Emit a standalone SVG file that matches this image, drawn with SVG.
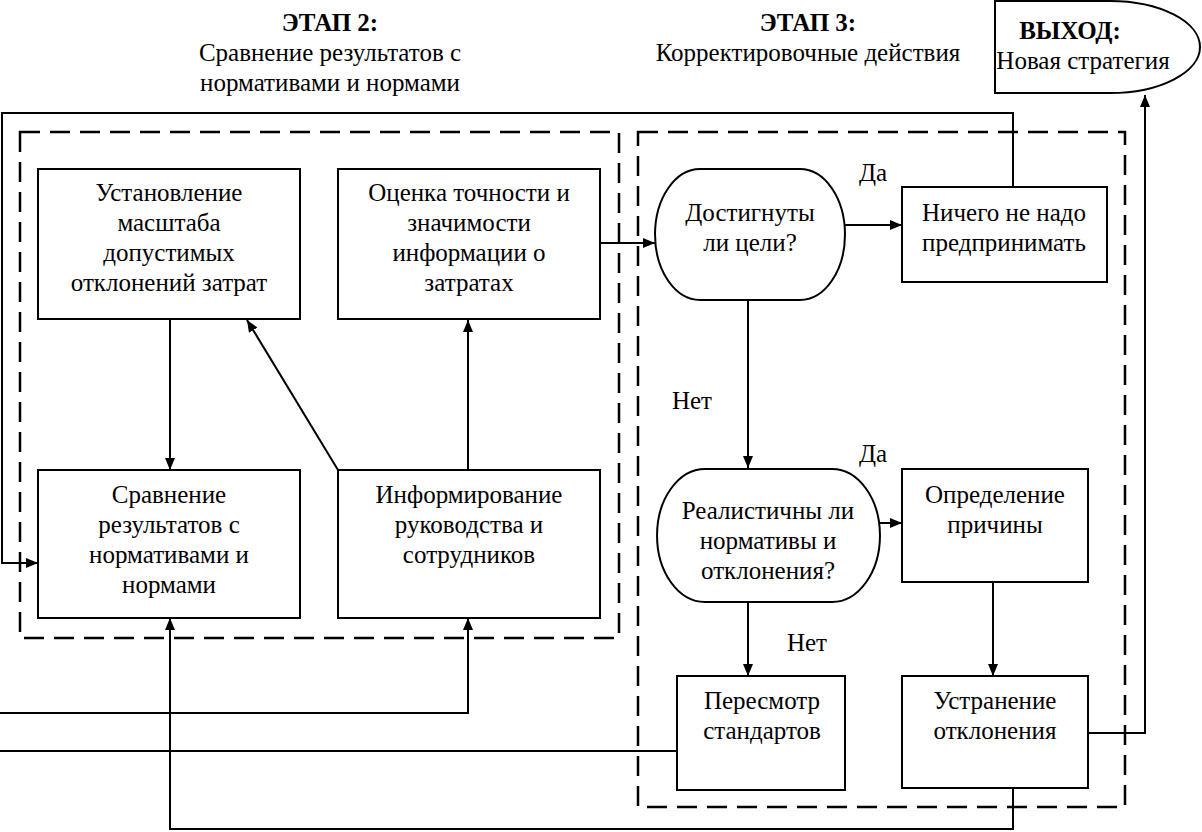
<svg xmlns="http://www.w3.org/2000/svg" width="1202" height="832" viewBox="0 0 1202 832">
<style>
text{fill:#000;text-anchor:middle;dominant-baseline:central}
.b{font-weight:bold}
.box{fill:#fff;stroke:#000;stroke-width:2}
.dash{fill:none;stroke:#000;stroke-width:2.5;stroke-dasharray:20 10}
.c{fill:none;stroke:#000;stroke-width:2}
.a{marker-end:url(#ah)}
</style>
<defs>
<marker id="ah" viewBox="0 0 12 10" refX="12" refY="5" markerWidth="12" markerHeight="10" markerUnits="userSpaceOnUse" orient="auto">
<path d="M0,0 L12,5 L0,10 Z" fill="#000"/>
</marker>
</defs>
<rect width="1202" height="832" fill="#fff"/>
<g font-family="Liberation Serif" font-size="25">
<g id="headers">
<text class="b" x="330" y="22">ЭТАП 2:</text>
<text x="330" y="52">Сравнение результатов с</text>
<text x="330" y="82">нормативами и нормами</text>
<text class="b" x="808" y="22">ЭТАП 3:</text>
<text x="808" y="52">Корректировочные действия</text>
</g>
<g id="stage2"><rect class="dash" x="20" y="132" width="599" height="506"/></g>
<g id="stage3"><rect class="dash" x="638" y="132" width="487" height="675"/></g>
<g id="connectors">
<path class="c" d="M1013,187 V113 H2"/>
<path class="c a" d="M2,112 V563 H38" stroke-width="3"/>
<path class="c a" d="M170,320 V470"/>
<path class="c a" d="M338,470 L247,320"/>
<path class="c a" d="M468,470 V320"/>
<path class="c a" d="M600,243 H655"/>
<path class="c a" d="M845,225 H902"/>
<path class="c a" d="M748,300 V468"/>
<path class="c a" d="M880,523 H902"/>
<path class="c a" d="M748,602 V676"/>
<path class="c a" d="M993,582 V676"/>
<path class="c a" d="M0,713 H468 V618"/>
<path class="c" d="M0,751 H677"/>
<path class="c a" d="M1013,788 V829 H170 V618"/>
<path class="c a" d="M1088,733 H1145 V95"/>
<text x="873" y="172">Да</text>
<text x="692" y="400">Нет</text>
<text x="873" y="453">Да</text>
<text x="807" y="642">Нет</text>
</g>
<g id="n-ustanovlenie">
<rect class="box" x="38" y="169" width="262" height="150"/>
<text x="169" y="192">Установление</text>
<text x="169" y="222">масштаба</text>
<text x="169" y="252">допустимых</text>
<text x="169" y="282">отклонений затрат</text>
</g>
<g id="n-otsenka">
<rect class="box" x="338" y="169" width="262" height="150"/>
<text x="469" y="192">Оценка точности и</text>
<text x="469" y="222">значимости</text>
<text x="469" y="252">информации о</text>
<text x="469" y="282">затратах</text>
</g>
<g id="n-sravnenie">
<rect class="box" x="38" y="470" width="262" height="148"/>
<text x="169" y="494">Сравнение</text>
<text x="169" y="524">результатов с</text>
<text x="169" y="554">нормативами и</text>
<text x="169" y="584">нормами</text>
</g>
<g id="n-inform">
<rect class="box" x="338" y="470" width="262" height="148"/>
<text x="469" y="494">Информирование</text>
<text x="469" y="524">руководства и</text>
<text x="469" y="554">сотрудников</text>
</g>
<g id="n-dostignuty">
<path class="box" d="M700,169 H800 A45,65.5 0 0 1 800,300 H700 A45,65.5 0 0 1 700,169 Z"/>
<text x="750" y="212">Достигнуты</text>
<text x="750" y="242">ли цели?</text>
</g>
<g id="n-nichego">
<rect class="box" x="902" y="187" width="205" height="95"/>
<text x="1004" y="212">Ничего не надо</text>
<text x="1004" y="242">предпринимать</text>
</g>
<g id="n-realistichny">
<path class="box" d="M705,469 H832 A48,66.5 0 0 1 832,602 H705 A48,66.5 0 0 1 705,469 Z"/>
<text x="768" y="510">Реалистичны ли</text>
<text x="768" y="540">нормативы и</text>
<text x="768" y="570">отклонения?</text>
</g>
<g id="n-opredelenie">
<rect class="box" x="902" y="469" width="186" height="113"/>
<text x="995" y="494">Определение</text>
<text x="995" y="524">причины</text>
</g>
<g id="n-peresmotr">
<rect class="box" x="677" y="676" width="168" height="114"/>
<text x="762" y="700">Пересмотр</text>
<text x="762" y="730">стандартов</text>
</g>
<g id="n-ustranenie">
<rect class="box" x="902" y="676" width="186" height="112"/>
<text x="995" y="700">Устранение</text>
<text x="995" y="730">отклонения</text>
</g>
<g id="n-vyhod">
<path class="box" d="M995,1 H1110 A90,46 0 0 1 1110,93 H995 Z"/>
<text class="b" x="1070" y="30">ВЫХОД:</text>
<text x="1083" y="60">Новая стратегия</text>
</g>
</g>
</svg>
